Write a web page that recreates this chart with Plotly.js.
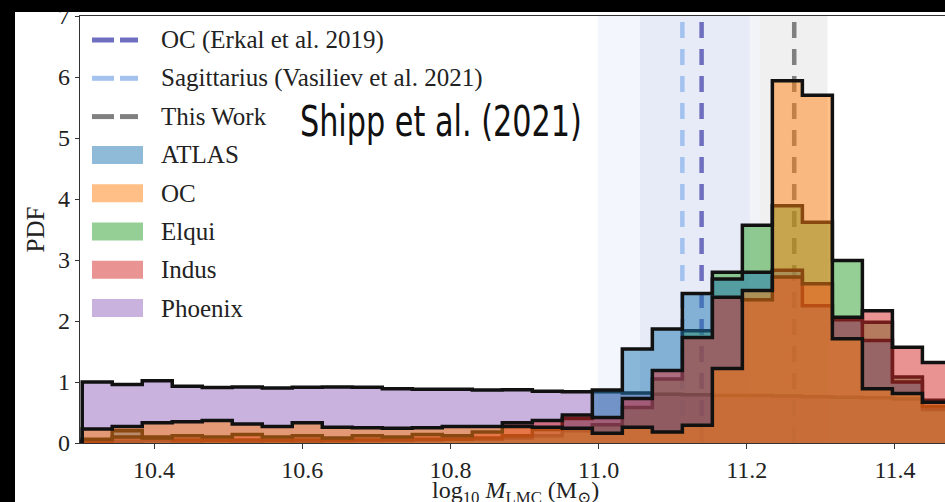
<!DOCTYPE html>
<html><head><meta charset="utf-8">
<script src="https://cdn.plot.ly/plotly-3.0.1.min.js"></script>
<style>
html,body{margin:0;padding:0;background:#fff;width:945px;height:502px;overflow:hidden;}
#chart{position:absolute;left:0;top:0;width:945px;height:502px;}
.edge{position:absolute;background:#000;z-index:10;}
</style></head><body>
<div id="chart"></div>
<div class="edge" style="left:0;top:0;width:945px;height:12px;"></div>
<div class="edge" style="left:0;top:0;width:15px;height:502px;"></div>
<script>
// ---- data ----
const binEdges = [10.3030,10.3435,10.3840,10.4245,10.4650,10.5055,10.5460,10.5865,10.6270,10.6675,
  10.7080,10.7485,10.7890,10.8295,10.8700,10.9105,10.9510,10.9915,11.0320,11.0725,
  11.1130,11.1535,11.1940,11.2345,11.2750,11.3155,11.3560,11.3965,11.4370,11.4775];
const phoenix = [1.00,0.96,1.02,0.93,0.91,0.92,0.90,0.915,0.92,0.915,0.89,0.88,0.88,0.87,0.875,0.85,0.84,0.84,0.82,0.80,0.79,0.78,0.78,0.77,0.76,0.75,0.74,0.72,0.70];
const elqui = [0.03,0.03,0.04,0.03,0.04,0.03,0.04,0.03,0.04,0.04,0.05,0.05,0.06,0.06,0.08,0.12,0.20,0.30,0.58,1.05,1.84,2.80,3.57,3.89,3.62,2.99,1.98,1.08,0.55];
const atlas = [0.02,0.20,0.10,0.05,0.04,0.05,0.04,0.05,0.04,0.05,0.05,0.06,0.06,0.08,0.12,0.22,0.40,0.87,1.54,1.87,2.45,2.69,2.80,2.83,2.25,2.02,1.68,1.00,0.60];
const indus = [0.06,0.10,0.08,0.12,0.10,0.14,0.10,0.12,0.08,0.12,0.10,0.14,0.12,0.18,0.33,0.37,0.46,0.42,0.73,1.19,1.73,2.39,2.35,2.72,2.61,2.06,2.17,1.57,1.32];
const ocHist = [0.23,0.27,0.33,0.35,0.37,0.31,0.27,0.33,0.26,0.25,0.24,0.25,0.27,0.27,0.27,0.26,0.24,0.16,0.26,0.18,0.29,1.22,2.50,5.94,5.70,1.71,0.89,0.81,0.67];

const histNames = ['ATLAS','OC','Elqui','Indus','Phoenix'];
const refNames = ['OC (Erkal et al. 2019)','Sagittarius (Vasiliev et al. 2021)','This Work'];
const refMass = [11.139, 11.113, 11.264];
const refBandLo = [11.056, 10.999, 11.218];
const refBandHi = [11.218, 11.204, 11.309];
const xTickVals = [10.4,10.6,10.8,11.0,11.2,11.4];
const xTickText = ['10.4','10.6','10.8','11.0','11.2','11.4'];
const yTickVals = [0,1,2,3,4,5,6,7];
const yTickText = ['0','1','2','3','4','5','6','7'];
const stampText = 'Shipp et al. (2021)';
const xTitleText = 'log<sub>10</sub> <i>M</i><sub>LMC</sub> (M<sub>⊙</sub>)';

// ---- styles ----
const histColor = {ATLAS:'31,119,180', OC:'255,127,14', Elqui:'44,160,44', Indus:'214,39,40', Phoenix:'148,103,189'};
const refColor = ['#6f6fbf','#a4c2ee','#808080'];
const bandColor = ['rgba(112,112,190,0.09)','rgba(160,192,240,0.12)','rgba(128,128,128,0.12)'];
const serif = '"Liberation Serif", "DejaVu Serif", serif';

function stepXY(vals){
  const x=[binEdges[0]], y=[0];
  for(let i=0;i<vals.length;i++){ x.push(binEdges[i]); y.push(vals[i]); }
  x.push(binEdges[vals.length]); y.push(vals[vals.length-1]);
  x.push(binEdges[vals.length]); y.push(0);
  return {x,y};
}

const traces = [];
for(let i=0;i<refMass.length;i++){
  traces.push({type:'scatter',mode:'lines',x:[refMass[i],refMass[i]],y:[0,7],
    line:{color:refColor[i],width:4.5,dash:'16px,11px'},showlegend:false,hoverinfo:'skip'});
}
const drawOrder = [['Phoenix',phoenix],['Elqui',elqui],['ATLAS',atlas],['Indus',indus],['OC',ocHist]];
for(const [name,vals] of drawOrder){
  const s = stepXY(vals);
  traces.push({type:'scatter',mode:'lines',x:s.x,y:s.y,line:{shape:'hv',color:'#111',width:3.5},
    fill:'tozeroy',fillcolor:'rgba('+histColor[name]+',0.5)',name:name,showlegend:false,hoverinfo:'skip'});
}

// ---- layout helpers (page px -> paper) ----
const PL=80, PW=865, PT=16, PH=427;
const xp = px => (px-PL)/PW;
const yp = py => (PT+PH-py)/PH;

const shapes = [];
for(let i=0;i<refBandLo.length;i++){
  shapes.push({type:'rect',xref:'x',yref:'paper',x0:refBandLo[i],x1:refBandHi[i],y0:0,y1:1,
    fillcolor:bandColor[i],line:{width:0},layer:'below'});
}
const annotations = [];
const legendY0 = 40, legendStep = 38.3;
const legFont = {family:serif,size:25,color:'#222'};
refNames.forEach((n,i)=>{
  const y = legendY0 + i*legendStep;
  shapes.push({type:'line',xref:'paper',yref:'paper',x0:xp(92),x1:xp(114),y0:yp(y),y1:yp(y),line:{color:refColor[i],width:5}});
  shapes.push({type:'line',xref:'paper',yref:'paper',x0:xp(120),x1:xp(138),y0:yp(y),y1:yp(y),line:{color:refColor[i],width:5}});
  annotations.push({xref:'paper',yref:'paper',x:xp(159),y:yp(y),xanchor:'left',yanchor:'middle',showarrow:false,
    text:n,font:legFont});
});
histNames.forEach((n,j)=>{
  const y = legendY0 + (j+3)*legendStep;
  shapes.push({type:'rect',xref:'paper',yref:'paper',x0:xp(92),x1:xp(143),y0:yp(y+9),y1:yp(y-9),
    fillcolor:'rgba('+histColor[n]+',0.5)',line:{width:0}});
  annotations.push({xref:'paper',yref:'paper',x:xp(159),y:yp(y),xanchor:'left',yanchor:'middle',showarrow:false,
    text:n,font:legFont});
});
annotations.push({xref:'paper',yref:'paper',x:xp(441),y:yp(121),xanchor:'center',yanchor:'middle',showarrow:false,
  text:stampText,font:{family:'"DejaVu Sans Condensed", "DejaVu Sans", sans-serif',size:42,color:'#111'}});
// x-axis title (placed explicitly below the tick labels)
annotations.push({xref:'paper',yref:'paper',x:xp(515),y:yp(475),xanchor:'center',yanchor:'top',showarrow:false,
  text:xTitleText,font:{family:serif,size:24,color:'#222'}});

const tickFont = {family:serif,size:24,color:'#222'};
const layout = {
  width:945,height:502,margin:{l:80,r:0,t:16,b:59},
  paper_bgcolor:'#fff',plot_bgcolor:'#fff',showlegend:false,hovermode:false,
  xaxis:{range:[10.3,11.4675],tickmode:'array',tickvals:xTickVals,ticktext:xTickText,
    ticks:'outside',ticklen:5,tickwidth:1,tickcolor:'#333',showline:true,linecolor:'#333',linewidth:1.2,
    mirror:true,showgrid:false,zeroline:false,tickfont:tickFont},
  yaxis:{range:[0,7],tickmode:'array',tickvals:yTickVals,ticktext:yTickText,
    ticks:'outside',ticklen:4,tickwidth:1,tickcolor:'#333',showline:true,linecolor:'#333',linewidth:1.2,
    mirror:false,showgrid:false,zeroline:false,tickfont:tickFont,
    title:{text:'PDF',font:{family:serif,size:25,color:'#222'},standoff:6}},
  shapes:shapes,annotations:annotations
};
Plotly.newPlot('chart',traces,layout,{displayModeBar:false,staticPlot:true}).then(()=>{
  document.querySelectorAll('.annotation-text').forEach(t=>{
    if(t.textContent===stampText){
      t.setAttribute('textLength','282');
      t.setAttribute('lengthAdjust','spacingAndGlyphs');
    }
  });
});
</script></body></html>
